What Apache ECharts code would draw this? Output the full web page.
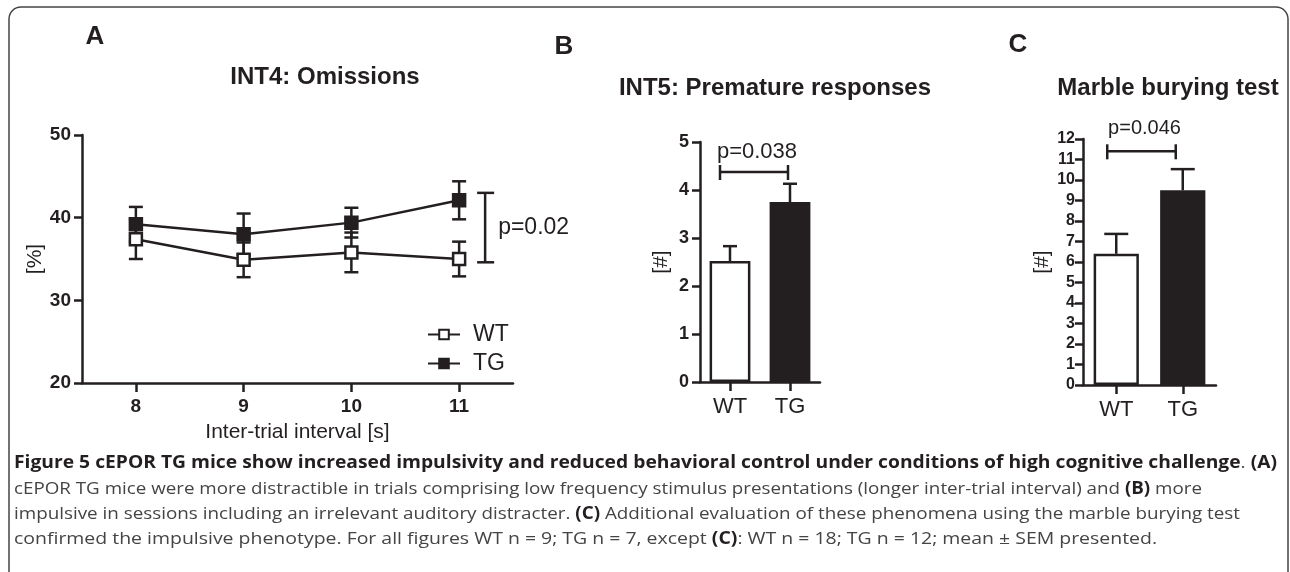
<!DOCTYPE html>
<html lang="en" style="height: 100%">
<head>
  <meta charset="utf-8">
  <title>figure 5</title>
  <script src="https://cdn.jsdelivr.net/npm/echarts@6/dist/echarts.min.js"></script>
  <style>
    html, body { height: 100%; margin: 0; background: #fff; }
  </style>
</head>
<body>
  <div id="container" style="width: 1290px; height: 572px"></div>
  <script type="text/javascript">
    // panel A: omissions per inter-trial interval
    var intervals = ['8', '9', '10', '11'];
    var wtOmit = [37.4, 34.9, 35.8, 35.0];
    var wtOmitSem = [2.4, 2.1, 2.4, 2.1];
    var tgOmit = [39.2, 38.0, 39.4, 42.1];
    var tgOmitSem = [2.1, 2.5, 1.8, 2.3];
    var omitBracket = [34.6, 43.0];
    // panel B / C
    var groups = ['WT', 'TG'];
    var premature = [2.52, 3.75];
    var prematureSem = [0.31, 0.38];
    var marbles = [6.4, 9.5];
    var marblesSem = [0.97, 1.03];
    var prematureBracket = 4.375;
    var marbleBracket = 11.4;

    var INK = '#231f20';
    var FONT = 'Liberation Sans, Arial, sans-serif';

    var dom = document.getElementById('container');
    var myChart = echarts.init(dom, null, { renderer: 'canvas' });

    function errRows(mean, sem, both) {
      return mean.map(function (m, i) {
        return [i, both ? m - sem[i] : m, m + sem[i]];
      });
    }

    function errorBars(capHalf, lowerCap) {
      return function (params, api) {
        var lo = api.coord([api.value(0), api.value(1)]);
        var hi = api.coord([api.value(0), api.value(2)]);
        var st = { stroke: INK, lineWidth: 2.5 };
        var kids = [
          { type: 'line', shape: { x1: lo[0], y1: lo[1], x2: hi[0], y2: hi[1] }, style: st },
          { type: 'line', shape: { x1: hi[0] - capHalf, y1: hi[1], x2: hi[0] + capHalf, y2: hi[1] }, style: st }
        ];
        if (lowerCap) {
          kids.push({ type: 'line', shape: { x1: lo[0] - capHalf, y1: lo[1], x2: lo[0] + capHalf, y2: lo[1] }, style: st });
        }
        return { type: 'group', children: kids };
      };
    }

    // horizontal significance bracket between the two bars
    function hBracket(label, textGap, fontSize, dxA, dxB) {
      return function (params, api) {
        var a = api.coord([0, api.value(1)]);
        var b = api.coord([1, api.value(1)]);
        var xa = a[0] + dxA, xb = b[0] + dxB;
        var st = { stroke: INK, lineWidth: 2.5 };
        return {
          type: 'group',
          children: [
            { type: 'line', shape: { x1: xa, y1: a[1], x2: xb, y2: b[1] }, style: st },
            { type: 'line', shape: { x1: xa, y1: a[1] - 7, x2: xa, y2: a[1] + 8 }, style: st },
            { type: 'line', shape: { x1: xb, y1: b[1] - 7, x2: xb, y2: b[1] + 8 }, style: st },
            {
              type: 'text',
              style: {
                x: (xa + xb) / 2 + 3, y: a[1] - textGap, text: label, align: 'center', verticalAlign: 'middle',
                fill: INK, font: fontSize + 'px ' + FONT
              }
            }
          ]
        };
      };
    }

    function vBracket(params, api) {
      var lo = api.coord([api.value(0), api.value(1)]);
      var hi = api.coord([api.value(0), api.value(2)]);
      var x = lo[0] + 26;
      var st = { stroke: INK, lineWidth: 2.5 };
      return {
        type: 'group',
        children: [
          { type: 'line', shape: { x1: x, y1: lo[1], x2: x, y2: hi[1] }, style: st },
          { type: 'line', shape: { x1: x - 8, y1: lo[1], x2: x + 9, y2: lo[1] }, style: st },
          { type: 'line', shape: { x1: x - 8, y1: hi[1], x2: x + 9, y2: hi[1] }, style: st },
          {
            type: 'text',
            style: {
              x: x + 13, y: (lo[1] + hi[1]) / 2, text: 'p=0.02', align: 'left', verticalAlign: 'middle',
              fill: INK, font: '23px ' + FONT
            }
          }
        ]
      };
    }

    function axisLine() {
      return { show: true, lineStyle: { color: INK, width: 2.5 } };
    }
    function axisTick(len) {
      return { show: true, length: len, lineStyle: { color: INK, width: 2.5 } };
    }

    function yAxisOf(grid, min, max, name, gap, fs, margin) {
      return {
        type: 'value', gridIndex: grid, min: min, max: max, interval: 1,
        splitLine: { show: false },
        axisLine: axisLine(), axisTick: axisTick(8),
        axisLabel: { color: INK, fontWeight: 'bold', fontSize: fs, fontFamily: FONT, margin: margin },
        name: name, nameLocation: 'middle', nameRotate: 90, nameGap: gap,
        nameTextStyle: { color: INK, fontSize: 21, fontFamily: FONT }
      };
    }
    function xAxisOf(grid, data) {
      return {
        type: 'category', gridIndex: grid, data: data, boundaryGap: true,
        axisLine: axisLine(), axisTick: Object.assign(axisTick(9), { alignWithLabel: true }),
        axisLabel: { color: INK, fontSize: 22, fontFamily: FONT, margin: 14 }
      };
    }

    // caption below the charts
    var caption = [
      [['Figure 5 cEPOR TG mice show increased impulsivity and reduced behavioral control under conditions of high cognitive challenge', 'b'], ['. ', 'r'], ['(A)', 'b']],
      [['cEPOR TG mice were more distractible in trials comprising low frequency stimulus presentations (longer inter-trial interval) and ', 'r'], ['(B)', 'b'], [' more', 'r']],
      [['impulsive in sessions including an irrelevant auditory distracter. ', 'r'], ['(C)', 'b'], [' Additional evaluation of these phenomena using the marble burying test', 'r']],
      [['confirmed the impulsive phenotype. For all figures WT n = 9; TG n = 7, except ', 'r'], ['(C)', 'b'], [': WT n = 18; TG n = 12; mean \u00b1 SEM presented.', 'r']]
    ];
    var capFs = 17;
    var capFont = '"Open Sans", sans-serif';
    var capLeft = 14;
    var capRight = [1277, 1202, 1240, 1157];
    var capY = [463, 489, 514, 539];
    var mctx = document.createElement('canvas').getContext('2d');
    function lineWidthOf(segs) {
      var w = 0;
      segs.forEach(function (s) {
        mctx.font = (s[1] === 'b' ? 'bold ' : '') + capFs + 'px ' + capFont;
        w += mctx.measureText(s[0]).width;
      });
      return w;
    }
    var captionGraphics = caption.map(function (segs, i) {
      return {
        type: 'text', x: capLeft, y: capY[i], scaleX: (capRight[i] - capLeft) / lineWidthOf(segs),
        style: {
          text: segs.map(function (s) { return '{' + s[1] + '|' + s[0] + '}'; }).join(''),
          verticalAlign: 'middle',
          rich: {
            b: { fontWeight: 'bold', fontSize: capFs, fontFamily: capFont, fill: '#231f20' },
            r: { fontSize: capFs, fontFamily: capFont, fill: '#444' }
          }
        }
      };
    });

    function heading(text, x, y, fs) {
      return {
        type: 'text', x: x, y: y,
        style: { text: text, align: 'center', verticalAlign: 'middle', fill: INK, font: 'bold ' + fs + 'px ' + FONT }
      };
    }

    var option = {
      animation: false,
      grid: [
        { left: 82, top: 135, width: 431, height: 248, containLabel: false, outerBoundsMode: 'none' },
        { left: 700, top: 142, width: 120, height: 240, containLabel: false, outerBoundsMode: 'none' },
        { left: 1083, top: 139, width: 133, height: 246, containLabel: false, outerBoundsMode: 'none' }
      ],
      legend: {
        data: ['WT', 'TG'], orient: 'vertical', left: 422, top: 318,
        itemWidth: 32, itemHeight: 12, itemGap: 6,
        textStyle: { color: INK, fontSize: 23, fontFamily: FONT, padding: [0, 0, 0, 8] }
      },
      xAxis: [
        Object.assign(xAxisOf(0, intervals), {
          axisLabel: { color: INK, fontSize: 19, fontWeight: 'bold', fontFamily: FONT, margin: 14 },
          name: 'Inter-trial interval [s]', nameLocation: 'middle', nameGap: 39,
          nameTextStyle: { color: INK, fontSize: 21, fontFamily: FONT }
        }),
        xAxisOf(1, groups),
        xAxisOf(2, groups)
      ],
      yAxis: [
        Object.assign(yAxisOf(0, 20, 50, '[%]', 36, 19, 11), { interval: 10 }),
        yAxisOf(1, 0, 5, '[#]', 28, 18, 11),
        yAxisOf(2, 0, 12, '[#]', 30, 16, 8)
      ],
      series: [
        { type: 'custom', xAxisIndex: 0, yAxisIndex: 0, renderItem: errorBars(7, true), data: errRows(wtOmit, wtOmitSem, true), encode: { x: 0, y: [1, 2] }, z: 1 },
        { type: 'custom', xAxisIndex: 0, yAxisIndex: 0, renderItem: errorBars(7, true), data: errRows(tgOmit, tgOmitSem, true), encode: { x: 0, y: [1, 2] }, z: 1 },
        {
          name: 'WT', type: 'line', xAxisIndex: 0, yAxisIndex: 0, data: wtOmit, z: 3,
          symbol: 'rect', symbolSize: 12,
          lineStyle: { color: INK, width: 2.5 },
          itemStyle: { color: '#fff', borderColor: INK, borderWidth: 2.5 }
        },
        {
          name: 'TG', type: 'line', xAxisIndex: 0, yAxisIndex: 0, data: tgOmit, z: 4,
          symbol: 'rect', symbolSize: 12,
          lineStyle: { color: INK, width: 2.5 },
          itemStyle: { color: INK, borderColor: INK, borderWidth: 2.5 }
        },
        { type: 'custom', xAxisIndex: 0, yAxisIndex: 0, renderItem: vBracket, data: [[3, omitBracket[0], omitBracket[1]]], encode: { x: 0, y: [1, 2] } },

        {
          type: 'bar', xAxisIndex: 1, yAxisIndex: 1, barWidth: '68%',
          data: premature.map(function (v, i) {
            return { value: v, itemStyle: { color: i === 0 ? '#fff' : INK, borderColor: INK, borderWidth: 2.5 } };
          })
        },
        { type: 'custom', xAxisIndex: 1, yAxisIndex: 1, renderItem: errorBars(7, false), data: errRows(premature, prematureSem, false), encode: { x: 0, y: [1, 2] } },
        { type: 'custom', xAxisIndex: 1, yAxisIndex: 1, renderItem: hBracket('p=0.038', 20, 22, -10, -2), data: [[0, prematureBracket]], encode: { x: 0, y: 1 } },

        {
          type: 'bar', xAxisIndex: 2, yAxisIndex: 2, barWidth: '68%',
          data: marbles.map(function (v, i) {
            return { value: v, itemStyle: { color: i === 0 ? '#fff' : INK, borderColor: INK, borderWidth: 2.5 } };
          })
        },
        { type: 'custom', xAxisIndex: 2, yAxisIndex: 2, renderItem: errorBars(12, false), data: errRows(marbles, marblesSem, false), encode: { x: 0, y: [1, 2] } },
        { type: 'custom', xAxisIndex: 2, yAxisIndex: 2, renderItem: hBracket('p=0.046', 23, 20, -9, -7), data: [[0, marbleBracket]], encode: { x: 0, y: 1 } }
      ],
      graphic: [
        {
          type: 'rect', shape: { x: 9, y: 7, width: 1279, height: 580, r: 12 },
          style: { fill: 'none', stroke: '#444', lineWidth: 1.5 }, z: -1
        },
        heading('A', 95, 37, 26),
        heading('B', 564, 47, 26),
        heading('C', 1018, 45, 26),
        heading('INT4: Omissions', 325, 77, 24),
        heading('INT5: Premature responses', 775, 88, 24),
        heading('Marble burying test', 1168, 88, 24)
      ].concat(captionGraphics)
    };

    myChart.setOption(option);
    window.addEventListener('resize', myChart.resize);
  </script>
</body>
</html>
